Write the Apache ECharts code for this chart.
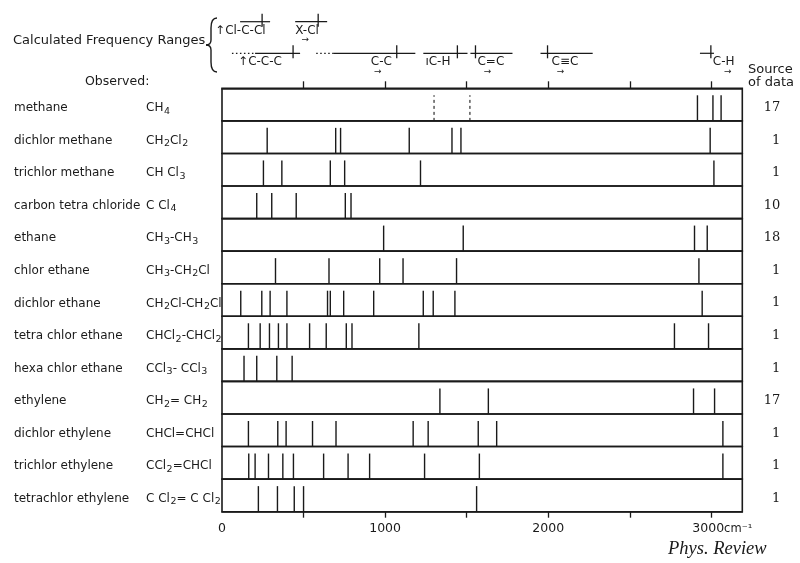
<!DOCTYPE html>
<html><head><meta charset="utf-8">
<script src="https://cdn.jsdelivr.net/npm/echarts@6/dist/echarts.min.js"></script>
<style>html,body{margin:0;padding:0;background:#fff}#c{width:800px;height:563px}</style>
</head><body><div id="c"></div>
<script>
// ---------- DATA ----------
const compounds = ['methane','dichlor methane','trichlor methane','carbon tetra chloride','ethane','chlor ethane','dichlor ethane','tetra chlor ethane','hexa chlor ethane','ethylene','dichlor ethylene','trichlor ethylene','tetrachlor ethylene'];
const formulas = ['CH₄','CH₂Cl₂','CH Cl₃','C Cl₄','CH₃-CH₃','CH₃-CH₂Cl','CH₂Cl-CH₂Cl','CHCl₂-CHCl₂','CCl₃- CCl₃','CH₂= CH₂','CHCl=CHCl','CCl₂=CHCl','C Cl₂= C Cl₂'];
const sources = ['17','1','1','10','18','1','1','1','1','17','1','1','1'];

const methaneDashed = [1300, 1520];
const methane = [2915, 3010, 3060];
const dichlorMethane = [277, 697, 727, 1148, 1410, 1465, 2993];
const trichlorMethane = [254, 367, 664, 752, 1217, 3016];
const carbonTetrachloride = [213, 305, 455, 756, 791];
const ethane = [991, 1479, 2897, 2975];
const chlorEthane = [328, 656, 967, 1110, 1438, 2924];
const dichlorEthane = [115, 244, 295, 398, 647, 664, 746, 930, 1234, 1295, 1428, 2944];
const tetrachlorEthane = [162, 234, 291, 346, 398, 537, 639, 762, 797, 1207, 2774, 2983];
const hexachlorEthane = [135, 213, 336, 430];
const ethylene = [1336, 1633, 2891, 3020];
const dichlorEthylene = [162, 342, 393, 555, 699, 1172, 1264, 1571, 1684, 3071];
const trichlorEthylene = [164, 203, 285, 373, 438, 623, 773, 905, 1242, 1578, 3071];
const tetrachlorEthylene = [223, 340, 443, 500, 1561];

const rangeLabels = ['↑Cl-C-Cl','X-Cl','↑C-C-C','C-C','ıC-H','C=C','C≡C','C-H'];
const rangeFrom = [111, 449, 203, 682, 1235, 1524, 1954, 2932];
const rangeTo = [295, 645, 479, 1186, 1506, 1782, 2274, 3018];
const rangeTick = [246, 590, 436, 1072, 1444, 1555, 1997, 2999];
const rangeDottedFrom = [null, null, 61, 578, null, null, null, null];
const rangeLevel = [0, 0, 1, 1, 1, 1, 1, 1];

const tickValues = [500, 1000, 1500, 2000, 2500, 3000];
const tickLabels = [0, 1000, 2000, 3000];
const xMax = 3190;

// ---------- LAYOUT (not data) ----------
const labelDx = [-47, -23, -55, -26, -32, 2, 4, 2];
const arrowDx = [null, 10, null, 7, null, 10, 9, 15];

const rows = [methane, dichlorMethane, trichlorMethane, carbonTetrachloride, ethane, chlorEthane, dichlorEthane, tetrachlorEthane, hexachlorEthane, ethylene, dichlorEthylene, trichlorEthylene, tetrachlorEthylene];
const lineData = [];
rows.forEach((arr, r) => arr.forEach(v => lineData.push([v, r, 0])));
methaneDashed.forEach(v => lineData.push([v, 0, 1]));

const INK = '#1a1a1a';
const FONT = 'DejaVu Sans';
const braceStyle = {fill: null, stroke: INK, lineWidth: 1.4};
const SUB = '₀₁₂₃₄₅₆₇₈₉';
function richFormula(f) {
  let out = '';
  let buf = '';
  for (const ch of f) {
    const k = SUB.indexOf(ch);
    if (k >= 0) {
      if (buf) { out += '{f|' + buf + '}'; buf = ''; }
      out += '{d|' + k + '}';
    } else buf += ch;
  }
  if (buf) out += '{f|' + buf + '}';
  return out;
}

const chart = echarts.init(document.getElementById('c'), null, {renderer: 'canvas'});
chart.setOption({
  backgroundColor: '#ffffff',
  animation: false,
  grid: [
    {left: 222, right: 58, top: 5.9, height: 63.2},
    {left: 222, right: 57.7, top: 88.3, bottom: 51.3}
  ],
  xAxis: [
    {gridIndex: 1, type: 'value', min: 0, max: xMax, position: 'bottom',
      axisLine: {show: true, onZero: false, lineStyle: {color: INK, width: 1.6}},
      axisTick: {show: true, length: 6, customValues: tickValues, lineStyle: {color: INK, width: 1.3}},
      splitLine: {show: false},
      axisLabel: {customValues: tickLabels, margin: 11, color: INK, fontFamily: FONT, fontSize: 12.5,
        formatter: v => v === 3000 ? '{s|}{a|3000}{b|cm⁻¹}' : '{a|' + v + '}',
        rich: {s: {width: 22}, a: {fontFamily: FONT, fontSize: 12.5, color: INK}, b: {fontFamily: FONT, fontSize: 11.5, color: INK}}}
    },
    {gridIndex: 1, type: 'value', min: 0, max: xMax, position: 'top',
      axisLine: {show: true, onZero: false, lineStyle: {color: INK, width: 1.6}},
      axisTick: {show: true, length: 7, customValues: tickValues, lineStyle: {color: INK, width: 1.3}},
      splitLine: {show: false}, axisLabel: {show: false}
    },
    {gridIndex: 0, type: 'value', min: 0, max: xMax, show: false}
  ],
  yAxis: [
    {gridIndex: 0, type: 'value', min: -0.5, max: 1.5, inverse: true, show: false},
    {gridIndex: 1, type: 'category', data: compounds, inverse: true, position: 'left',
      axisLine: {show: false}, axisTick: {show: false}, splitLine: {show: false},
      axisLabel: {interval: 0, margin: 208, align: 'left', padding: [7, 0, 0, 0],
        formatter: v => '{n|' + v + '}',
        rich: {n: {fontFamily: FONT, fontSize: 12, color: INK}}}
    },
    {gridIndex: 1, type: 'category', data: sources, inverse: true, position: 'right',
      axisLine: {show: false}, axisTick: {show: false}, splitLine: {show: false},
      axisLabel: {interval: 0, margin: 20, padding: [6, 0, 0, 0],
        formatter: v => '{s|' + v + '}',
        rich: {s: {width: 18, align: 'right', fontFamily: 'DejaVu Serif', fontSize: 13, color: INK}}}
    },
    {gridIndex: 1, type: 'category', data: formulas, inverse: true, position: 'left', offset: 0,
      axisLine: {show: false}, axisTick: {show: false}, splitLine: {show: false},
      axisLabel: {interval: 0, margin: 76, align: 'left', padding: [7, 0, 0, 0],
        formatter: v => richFormula(v),
        rich: {
          f: {fontFamily: FONT, fontSize: 12, color: INK},
          d: {fontFamily: FONT, fontSize: 9.5, color: INK, padding: [6, 0, 0, 0.5]}
        }}
    }
  ],
  series: [
    {type: 'custom', xAxisIndex: 0, yAxisIndex: 1, silent: true,
      data: compounds.map((_, i) => [0, i]), encode: {x: 0, y: 1},
      renderItem: (params, api) => {
        const c0 = api.coord([0, api.value(1)]);
        const c1 = api.coord([xMax, api.value(1)]);
        const h = api.size([0, 1])[1];
        return {type: 'rect', shape: {x: c0[0], y: c0[1] - h / 2, width: c1[0] - c0[0], height: h},
          style: {fill: null, stroke: INK, lineWidth: 1.6}};
      }
    },
    {type: 'custom', xAxisIndex: 0, yAxisIndex: 1, silent: true,
      data: lineData, encode: {x: 0, y: 1},
      renderItem: (params, api) => {
        const c = api.coord([api.value(0), api.value(1)]);
        const h = api.size([0, 1])[1];
        const dashed = api.value(2) === 1;
        return {type: 'line', shape: {x1: c[0], y1: c[1] + h / 2, x2: c[0], y2: c[1] - h / 2 + 7},
          style: {stroke: INK, lineWidth: dashed ? 1.1 : 1.4, lineDash: dashed ? [3, 3] : null}};
      }
    },
    {type: 'custom', xAxisIndex: 2, yAxisIndex: 0, silent: true, clip: false,
      data: rangeLabels.map((_, i) => [rangeFrom[i], rangeLevel[i], i]), encode: {x: 0, y: 1},
      renderItem: (params, api) => {
        const i = api.value(2);
        const lv = rangeLevel[i];
        const a = api.coord([rangeFrom[i], lv]);
        const b = api.coord([rangeTo[i], lv]);
        const t = api.coord([rangeTick[i], lv]);
        const y = a[1];
        const ch = [];
        if (rangeDottedFrom[i] != null) {
          const d = api.coord([rangeDottedFrom[i], lv]);
          ch.push({type: 'line', shape: {x1: d[0], y1: y, x2: a[0], y2: y}, style: {stroke: INK, lineWidth: 1.2, lineDash: [1.5, 2.5]}});
        }
        ch.push({type: 'line', shape: {x1: a[0], y1: y, x2: b[0], y2: y}, style: {stroke: INK, lineWidth: 1.2}});
        ch.push({type: 'line', shape: {x1: t[0], y1: y - 8, x2: t[0], y2: y + 5}, style: {stroke: INK, lineWidth: 1.3}});
        const lx = t[0] + labelDx[i];
        ch.push({type: 'text', style: {text: rangeLabels[i], x: lx, y: y + 9, align: 'left', verticalAlign: 'middle', fontFamily: FONT, fontSize: 12, fill: INK}});
        if (arrowDx[i] != null) {
          ch.push({type: 'text', style: {text: '→', x: lx + arrowDx[i], y: y + 18, align: 'center', verticalAlign: 'middle', fontFamily: FONT, fontSize: 9, fill: INK}});
        }
        return {type: 'group', children: ch};
      }
    }
  ],
  graphic: [
    {type: 'text', x: 13, y: 34, style: {text: 'Calculated Frequency Ranges', fontFamily: FONT, fontSize: 13, fill: INK}},
    {type: 'bezierCurve', shape: {x1: 217, y1: 18, cpx1: 212, cpy1: 18, cpx2: 211, cpy2: 22, x2: 211, y2: 28}, style: braceStyle},
    {type: 'line', shape: {x1: 211, y1: 28, x2: 211, y2: 40}, style: braceStyle},
    {type: 'bezierCurve', shape: {x1: 211, y1: 40, cpx1: 211, cpy1: 44, cpx2: 209, cpy2: 45, x2: 206, y2: 45}, style: braceStyle},
    {type: 'bezierCurve', shape: {x1: 206, y1: 45, cpx1: 209, cpy1: 45, cpx2: 211, cpy2: 46, x2: 211, y2: 50}, style: braceStyle},
    {type: 'line', shape: {x1: 211, y1: 50, x2: 211, y2: 62}, style: braceStyle},
    {type: 'bezierCurve', shape: {x1: 211, y1: 62, cpx1: 211, cpy1: 68, cpx2: 212, cpy2: 72, x2: 217, y2: 72}, style: braceStyle},
    {type: 'text', x: 85, y: 75, style: {text: 'Observed:', fontFamily: FONT, fontSize: 12.5, fill: INK}},
    {type: 'text', x: 748, y: 63, style: {text: 'Source\nof data', fontFamily: FONT, fontSize: 13, lineHeight: 13, fill: INK}},
    {type: 'text', x: 668, y: 540, style: {text: 'Phys. Review', fontFamily: 'Liberation Serif', fontStyle: 'italic', fontSize: 18.5, fill: INK}}
  ]
});
</script>
</body></html>
